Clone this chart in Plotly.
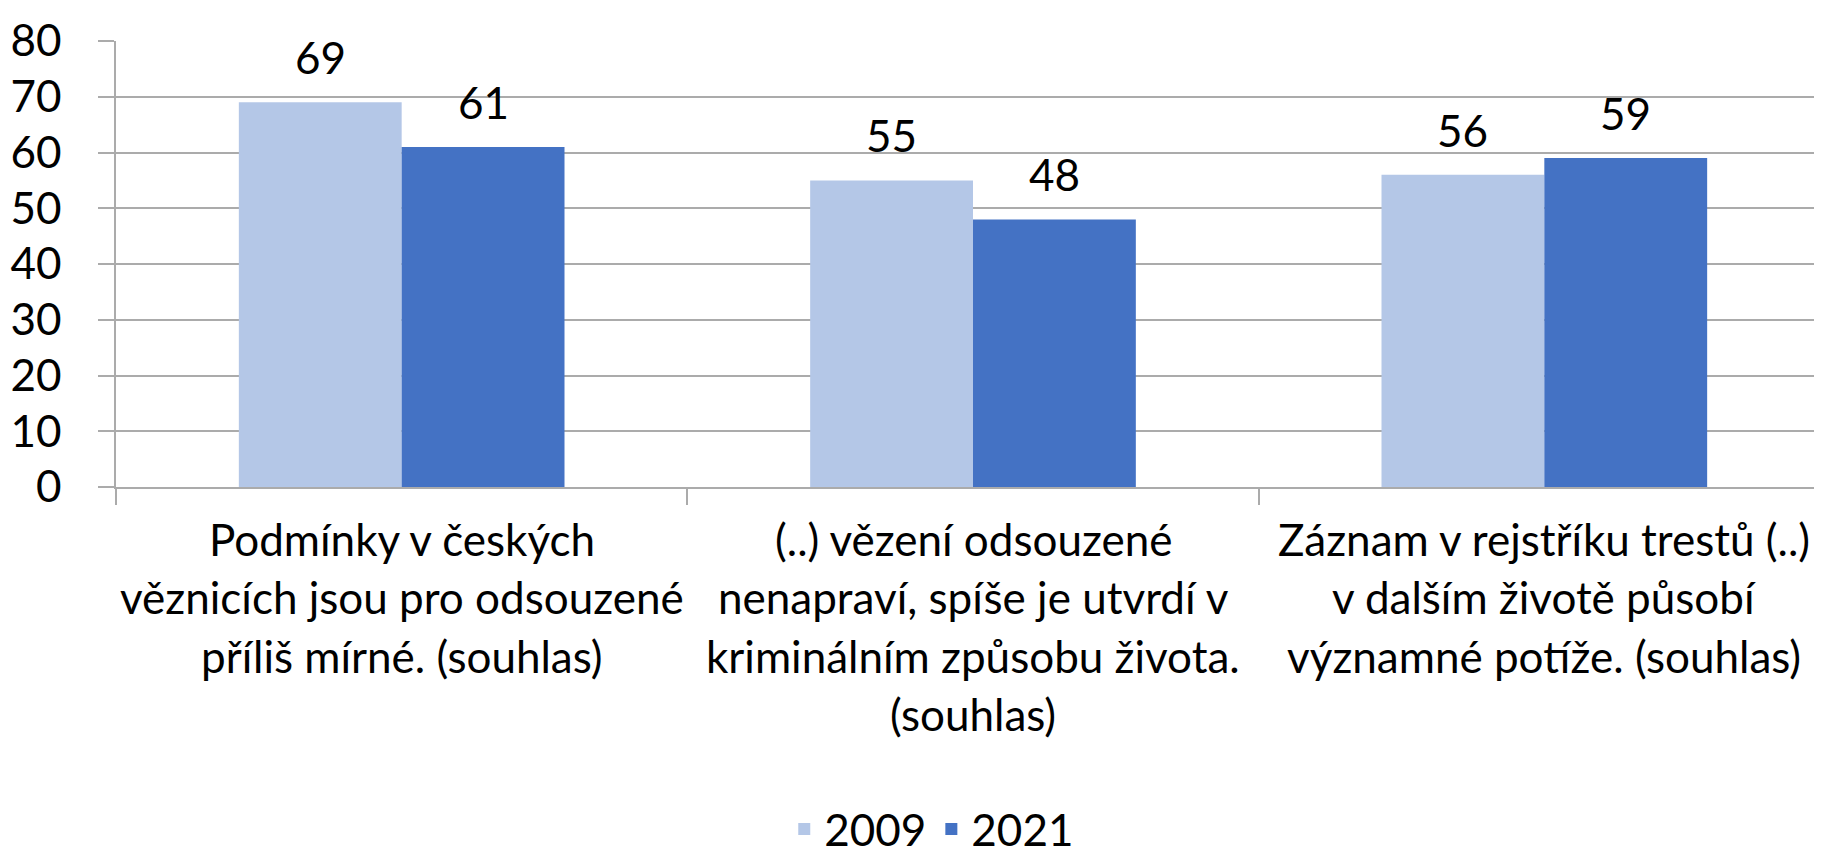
import plotly.graph_objects as go

categories = ["c1", "c2", "c3"]
category_lines = [
    ["Podmínky v českých", "věznicích jsou pro odsouzené", "příliš mírné. (souhlas)"],
    ["(..) vězení odsouzené", "nenapraví, spíše je utvrdí v", "kriminálním způsobu života.", "(souhlas)"],
    ["Záznam v rejstříku trestů (..)", "v dalším životě působí", "významné potíže. (souhlas)"],
]
series_names = ["2009", "2021"]
values_2009 = [69, 55, 56]
values_2021 = [61, 48, 59]
y_ticks = [0, 10, 20, 30, 40, 50, 60, 70, 80]

W, H = 1822, 857
ML, MR, MT, MB = 108, 0, 33, 378
BARGAP = 0.43
FONT = "Lato"
FS = 44
colors = ["#B4C7E7", "#4472C4"]

fig = go.Figure()
for name, vals, col in zip(series_names, [values_2009, values_2021], colors):
    fig.add_trace(go.Bar(x=categories, y=vals, name=name, marker_color=col,
                         marker_line_width=0))

plot_w = W - ML - MR
cat_w = plot_w / len(categories)
half = cat_w * (1 - BARGAP) / 4

annotations = []
for vals, sign in [(values_2009, -1), (values_2021, 1)]:
    for c, v in zip(categories, vals):
        annotations.append(dict(x=c, y=v, xref="x", yref="y", text=str(v),
                                showarrow=False, xshift=sign * half, yshift=17,
                                yanchor="bottom", font=dict(family=FONT, size=FS, color="black")))
for c, lines in zip(categories, category_lines):
    for i, line in enumerate(lines):
        annotations.append(dict(x=c, y=0, xref="x", yref="paper", text=line,
                                showarrow=False, yanchor="middle", yshift=-(52 + i * 58.3),
                                font=dict(family=FONT, size=FS, color="black")))

fig.update_layout(
    width=W, height=H,
    margin=dict(l=ML, r=MR, t=MT, b=MB, pad=0),
    barmode="group", bargap=BARGAP, bargroupgap=0,
    plot_bgcolor="white", paper_bgcolor="white",
    font=dict(family=FONT, size=FS, color="black"),
    annotations=annotations,
    legend=dict(orientation="h", xref="container", yref="container",
                x=0.507, y=0.0, xanchor="center", yanchor="bottom",
                font=dict(family=FONT, size=FS, color="black"),
                itemwidth=30, tracegroupgap=0),
    yaxis=dict(range=[0, 80], tickvals=y_ticks, showgrid=True, gridcolor="#ABABAB",
               gridwidth=1.5, zeroline=False, showline=True, linecolor="#ABABAB",
               linewidth=1.5, ticks="outside", ticklen=16, tickcolor="#ABABAB",
               tickwidth=1.5, ticklabelstandoff=28,
               tickfont=dict(family=FONT, size=FS, color="black")),
    xaxis=dict(showticklabels=False, ticks="outside", tickson="boundaries",
               ticklen=16, tickcolor="#ABABAB", tickwidth=1.5, showline=True,
               linecolor="#ABABAB", linewidth=1.5, showgrid=False),
)

fig.write_html("out.html")
